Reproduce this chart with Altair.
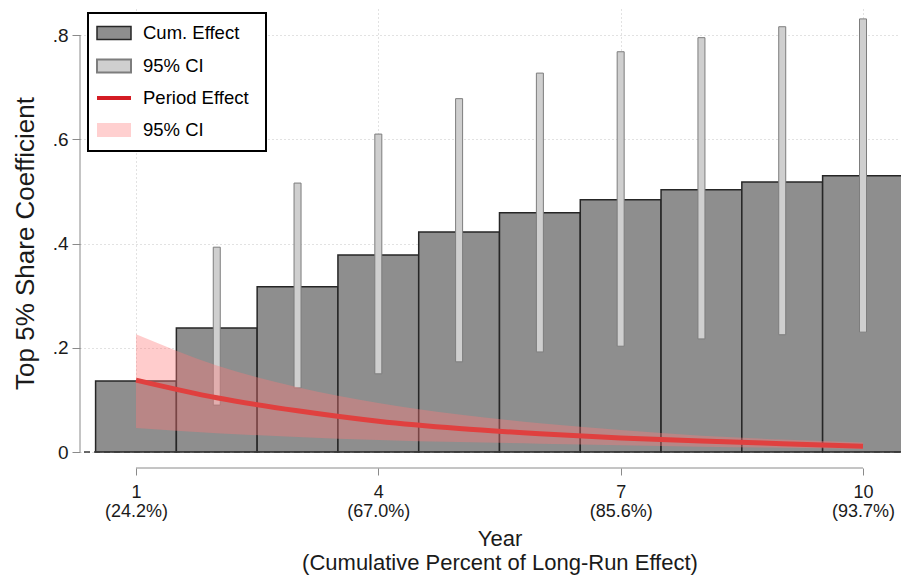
import altair as alt
import pandas as pd

FONT = "Liberation Sans"

# ---- data ----
years = [1, 2, 3, 4, 5, 6, 7, 8, 9, 10]
cum_effect = [0.136, 0.238, 0.317, 0.378, 0.422, 0.459, 0.484, 0.503, 0.518, 0.530]
ci_low = [None, 0.090, 0.123, 0.150, 0.173, 0.192, 0.203, 0.217, 0.225, 0.230]
ci_high = [None, 0.393, 0.516, 0.610, 0.678, 0.727, 0.768, 0.795, 0.816, 0.831]
period_effect = [0.138, 0.104, 0.079, 0.059, 0.045, 0.035, 0.027, 0.021, 0.016, 0.011]
band_low = [0.046, 0.036, 0.029, 0.023, 0.019, 0.016, 0.013, 0.010, 0.008, 0.006]
band_high = [0.226, 0.166, 0.124, 0.094, 0.072, 0.055, 0.042, 0.031, 0.024, 0.018]

tick_years = [1, 4, 7, 10]
tick_pcts = ["(24.2%)", "(67.0%)", "(85.6%)", "(93.7%)"]
y_ticks = [0, 0.2, 0.4, 0.6, 0.8]
y_tick_labels = ["0", ".2", ".4", ".6", ".8"]
legend_labels = ["Cum. Effect", "95% CI", "Period Effect", "95% CI"]
x_title = ["Year", "(Cumulative Percent of Long-Run Effect)"]
y_title = "Top 5% Share Coefficient"

df = pd.DataFrame({
    "year": years, "cum": cum_effect, "ci_lo": ci_low, "ci_hi": ci_high,
    "period": period_effect, "band_lo": band_low, "band_hi": band_high,
})

W, H = 820, 443

# label expressions built from the tick lists
xlab = ""
for yv, pc in zip(tick_years, tick_pcts):
    xlab += f"datum.value == {yv} ? ['{yv}', '{pc}'] : "
xlab += "''"
ylab = ""
for v, s in zip(y_ticks, y_tick_labels):
    ylab += f"abs(datum.value - {v}) < 1e-6 ? '{s}' : "
ylab += "''"

xs = alt.Scale(domain=[0.307, 10.458], nice=False, zero=False, padding=0)
ys = alt.Scale(domain=[0, 0.85], nice=False, zero=False, padding=0)

AX = "#8a8a8a"
GRID = "#c4c4c4"
TXT = "#1a1a1a"

xaxis = alt.Axis(
    values=tick_years, labelExpr=xlab, tickSize=7, tickColor=AX, tickWidth=1,
    domain=False, offset=16, grid=True, gridColor=GRID, gridDash=[1, 3], gridWidth=1,
    labelFontSize=18, labelLineHeight=19, labelPadding=8, labelColor=TXT, labelFont=FONT,
    labelOverlap=False, labelFlush=False,
    title=x_title, titleFontSize=22, titleFontWeight="normal", titleLineHeight=24,
    titlePadding=8, titleX=419.5, titleColor=TXT, titleFont=FONT,
)
yaxis = alt.Axis(
    values=y_ticks, labelExpr=ylab, tickSize=8, tickColor=AX, tickWidth=1,
    domain=False, grid=True, gridColor=GRID, gridDash=[1, 3], gridWidth=1,
    labelFontSize=19, labelPadding=4, labelColor=TXT, labelFont=FONT,
    labelOverlap=False, labelFlush=False,
    title=y_title, titleFontSize=26, titleFontWeight="normal", titlePadding=14,
    titleY=234, titleColor=TXT, titleFont=FONT,
)


def X(field):
    return alt.X(field, type="quantitative", scale=xs, axis=xaxis, title=x_title)


def Y(field):
    return alt.Y(field, type="quantitative", scale=ys, axis=yaxis, title=y_title)


bars = alt.Chart(df).transform_calculate(
    x0="datum.year - 0.5", x1="datum.year + 0.5"
).mark_rect(fill="#8e8e8e", stroke="#262626", strokeWidth=1.5).encode(
    x=X("x0"), x2="x1:Q", y=Y("cum"), y2=alt.datum(0),
)

ci = alt.Chart(df).transform_filter("isValid(datum.ci_hi)").mark_bar(
    size=7, fill="#cfcfcf", stroke="#7d7d7d", strokeWidth=1
).encode(x=X("year"), y=Y("ci_lo"), y2="ci_hi:Q")

band = alt.Chart(df).mark_area(interpolate="monotone", fill="#ff7a7a", opacity=0.38).encode(
    x=X("year"), y=Y("band_lo"), y2="band_hi:Q",
)

line = alt.Chart(df).mark_line(interpolate="monotone", color="#e0403f", strokeWidth=5).encode(
    x=X("year"), y=Y("period"),
)

zero = alt.Chart(pd.DataFrame({"v": [0]})).mark_rule(
    color="#3a3a3a", strokeDash=[6, 4], strokeWidth=1.5
).encode(y=Y("v"))

yline = alt.Chart(pd.DataFrame({"lo": [y_ticks[0]], "hi": [y_ticks[-1]]})).mark_rule(
    color=AX, strokeWidth=1
).encode(x=alt.value(0), y=Y("lo"), y2="hi:Q")

xline = alt.Chart(pd.DataFrame({"lo": [tick_years[0]], "hi": [tick_years[-1]]})).mark_rule(
    color=AX, strokeWidth=1
).encode(x=X("lo"), x2="hi:Q", y=alt.value(H + 16))

# ---- legend (drawn manually) ----
one = pd.DataFrame({"k": [0]})
box = alt.Chart(one).mark_rect(fill="white", stroke="black", strokeWidth=2).encode(
    x=alt.value(8), x2=alt.value(186), y=alt.value(4), y2=alt.value(142)
)
rows = [24, 57, 89, 121]
sw_x0, sw_x1, txt_x = 17, 51, 63
leg = []
leg.append(alt.Chart(one).mark_rect(fill="#8e8e8e", stroke="#262626", strokeWidth=1.5).encode(
    x=alt.value(sw_x0), x2=alt.value(sw_x1), y=alt.value(rows[0] - 6.5), y2=alt.value(rows[0] + 6.5)))
leg.append(alt.Chart(one).mark_rect(fill="#cfcfcf", stroke="#7d7d7d", strokeWidth=2).encode(
    x=alt.value(sw_x0), x2=alt.value(sw_x1), y=alt.value(rows[1] - 6.5), y2=alt.value(rows[1] + 6.5)))
leg.append(alt.Chart(one).mark_rule(color="#d41c24", strokeWidth=4).encode(
    x=alt.value(sw_x0), x2=alt.value(sw_x1), y=alt.value(rows[2])))
leg.append(alt.Chart(one).mark_rect(fill="#ffd0d0").encode(
    x=alt.value(sw_x0), x2=alt.value(sw_x1), y=alt.value(rows[3] - 7), y2=alt.value(rows[3] + 7)))
for lbl, yc in zip(legend_labels, rows):
    leg.append(alt.Chart(pd.DataFrame({"t": [lbl]})).mark_text(
        align="left", baseline="middle", fontSize=18.5, font=FONT, color="black"
    ).encode(x=alt.value(txt_x), y=alt.value(yc), text="t:N"))

chart = alt.layer(bars, ci, band, line, zero, yline, xline, box, *leg).properties(
    width=W, height=H,
    padding={"left": 72, "top": 1, "right": 1, "bottom": 123},
    autosize=alt.AutoSizeParams(type="none"),
).configure(font=FONT).configure_view(stroke=None)

chart.save("out.html", embed_options={"renderer": "svg", "actions": False})
